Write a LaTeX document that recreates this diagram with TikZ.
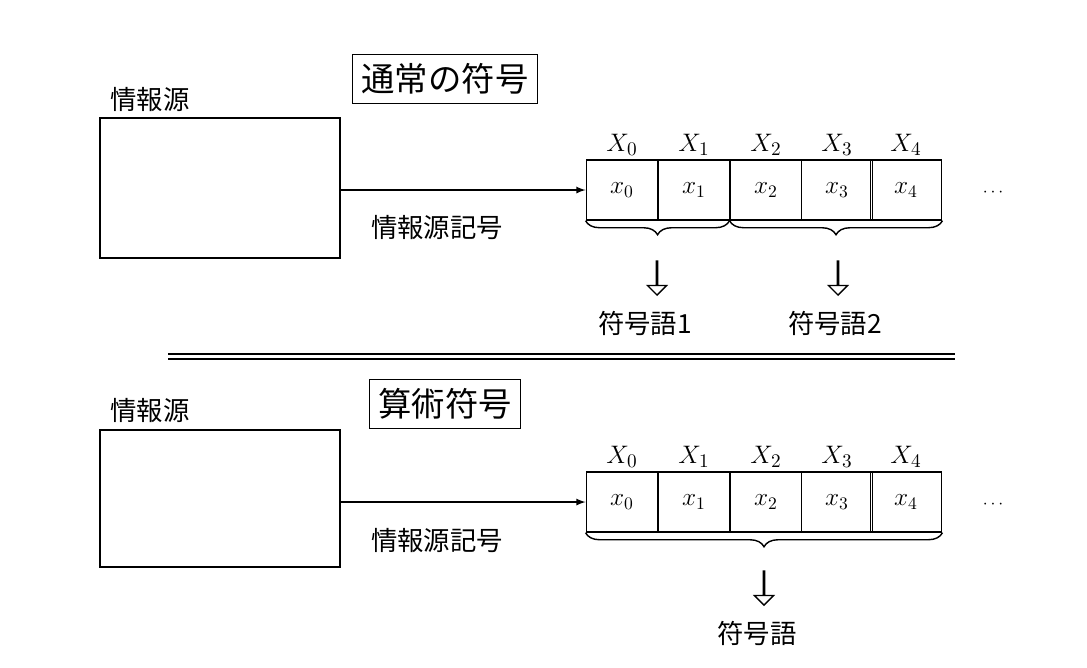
\documentclass[tikz,border=0pt]{standalone}
\usepackage{fontspec}
\newfontfamily\jp{Noto Sans CJK JP}
\usetikzlibrary{decorations.pathreplacing,shapes.arrows}

\tikzset{
  jtext/.style={font=\jp\fontsize{15}{18}\selectfont},
  title/.style={draw, thick, font=\jp\fontsize{19}{22}\selectfont, inner sep=5pt},
  cell/.style={draw, minimum width=1.43cm, minimum height=1.2cm, inner sep=0pt, font=\fontsize{14}{16}\selectfont},
  brc/.style={decorate, decoration={brace, amplitude=8pt}},
  hollow/.style={single arrow, draw, shape border rotate=270, minimum height=0.68cm,
    single arrow head extend=5pt, minimum width=0.36cm, single arrow head indent=0pt, inner sep=0pt},
}

\begin{document}
\begin{tikzpicture}[x=0.02cm, y=-0.02cm, thick]
  \useasboundingbox (0,0) rectangle (1087,667);

  % upper half: ordinary code
  \node[title] (t1) at (445,79) {通常の符号};
  \node[jtext, anchor=west] (s1) at (104,100) {情報源};
  \draw (100,118) rectangle (340,258);
  \coordinate (o1) at (340,190);
  \foreach \i/\x in {0/622,1/694,2/766,3/837,4/906} {
    \node[cell] (a\i) at (\x,190) {$x_{\i}$};
    \node[font=\fontsize{15}{17}\selectfont] (A\i) at (\x,145) {$X_{\i}$};
  }
  \draw[-latex] (o1) -- (a0.west);
  \node[jtext] (l1) at (437,228) {情報源記号};
  \node (d1) at (993,193) {$\cdots$};
  \draw[brc] (a2.south west) -- (a0.south west);
  \draw[brc] (a4.south east) -- (a2.south west);
  \node[hollow, anchor=tip] (h1) at (657,296) {};
  \node[hollow, anchor=tip] (h2) at (838,296) {};
  \node[jtext] (w1) at (645,323) {符号語1};
  \node[jtext] (w2) at (835,323) {符号語2};

  % separator
  \draw[line width=1.2pt] (168,354) -- (955,354);
  \draw[line width=1.2pt] (168,359) -- (955,359);

  % lower half: arithmetic code
  \node[title] (t2) at (445,404) {算術符号};
  \node[jtext, anchor=west] (s2) at (104,410) {情報源};
  \draw (100,430) rectangle (340,567);
  \coordinate (o2) at (340,502);
  \foreach \i/\x in {0/622,1/694,2/766,3/837,4/906} {
    \node[cell] (c\i) at (\x,502) {$x_{\i}$};
    \node[font=\fontsize{15}{17}\selectfont] (C\i) at (\x,457) {$X_{\i}$};
  }
  \draw[-latex] (o2) -- (c0.west);
  \node[jtext] (l2) at (437,540) {情報源記号};
  \node (d2) at (993,505) {$\cdots$};
  \draw[brc] (c4.south east) -- (c0.south west);
  \node[hollow, anchor=tip] (h3) at (764,606) {};
  \node[jtext] (w3) at (757,633) {符号語};
\end{tikzpicture}
\end{document}
